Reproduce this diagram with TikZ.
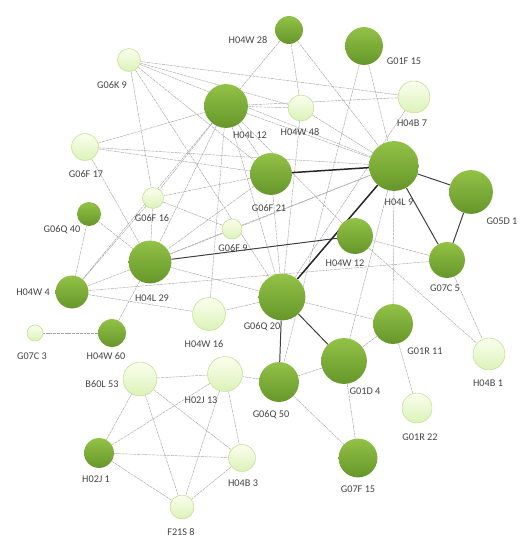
\documentclass[tikz,border=0pt]{standalone}
\usepackage{fontspec}
\setmainfont{Carlito}
\pgfdeclarelayer{bgfill}
\pgfdeclarelayer{bg}
\pgfsetlayers{bgfill,bg,main}
\definecolor{dkTop}{RGB}{146,194,70}
\definecolor{dkBot}{RGB}{102,150,42}
\definecolor{ltTop}{RGB}{250,255,238}
\definecolor{ltBot}{RGB}{220,242,184}
\definecolor{ltEdge}{RGB}{196,224,150}
\definecolor{lblc}{RGB}{70,70,70}
\tikzset{
  dk/.style={circle, draw=none, top color=dkTop, bottom color=dkBot, minimum size=#1, inner sep=0pt},
  lt/.style={circle, draw=ltEdge, line width=0.6pt, top color=ltTop, bottom color=ltBot, minimum size=#1, inner sep=0pt},
  lbl/.style={font=\fontsize{10.3}{11}\selectfont, text=lblc, inner sep=0pt},
  thinedge/.style={draw=gray!70, line width=0.45pt, dash pattern=on 3pt off 0.8pt},
  medge/.style={draw=black!75, line width=1pt},
  thickedge/.style={draw=black!85, line width=1.5pt}
}
\begin{document}
\begin{tikzpicture}[x=1bp,y=-1bp]
\begin{pgfonlayer}{bgfill}
\path[fill=white] (0,0) rectangle (529,550);
\end{pgfonlayer}
\useasboundingbox (0,0) rectangle (529,550);
% nodes
\node[dk=28] (H04W28) at (289,30) {};
\node[dk=38] (G01F15) at (364,46) {};
\node[lt=23] (G06K9) at (129,60) {};
\node[dk=44] (H04L12) at (226,106) {};
\node[lt=26] (H04W48) at (301,108) {};
\node[lt=32] (H04B7) at (414,97) {};
\node[lt=27] (G06F17) at (85,147) {};
\node[dk=50] (H04L9) at (394,166) {};
\node[dk=44] (G05D1) at (471,192) {};
\node[dk=42] (G06F21) at (271,174) {};
\node[lt=21] (G06F16) at (153,198) {};
\node[dk=24] (G06Q40) at (89,214) {};
\node[lt=20] (G06F9) at (232,229) {};
\node[dk=36] (H04W12) at (355,236) {};
\node[dk=43] (H04L29) at (150,262) {};
\node[dk=36] (G07C5) at (447,260) {};
\node[dk=33] (H04W4) at (72,292) {};
\node[dk=47] (G06Q20) at (282,297) {};
\node[lt=33] (H04W16) at (209,314) {};
\node[lt=16] (G07C3) at (35,333) {};
\node[dk=28] (H04W60) at (112,333) {};
\node[dk=40] (G01R11) at (393,324) {};
\node[lt=32] (H04B1) at (489,354) {};
\node[dk=46] (G01D4) at (344,361) {};
\node[lt=34] (B60L53) at (140,379) {};
\node[lt=35] (H02J13) at (225,374) {};
\node[dk=40] (G06Q50) at (279,382) {};
\node[lt=30] (G01R22) at (417,408) {};
\node[dk=30] (H02J1) at (99,453) {};
\node[lt=27] (H04B3) at (242,458) {};
\node[dk=39] (G07F15) at (358,458) {};
\node[lt=24] (F21S8) at (182,507) {};
% labels
\node[lbl] (lH04W28) at (248,40) {H04W 28};
\node[lbl] (lG01F15) at (404,61) {G01F 15};
\node[lbl] (lG06K9) at (112,85) {G06K 9};
\node[lbl] (lH04L12) at (250,135) {H04L 12};
\node[lbl] (lH04W48) at (300,132) {H04W 48};
\node[lbl] (lH04B7) at (412,123) {H04B 7};
\node[lbl] (lG06F17) at (86,174) {G06F 17};
\node[lbl] (lH04L9) at (399,202) {H04L 9};
\node[lbl] (lG05D1) at (502,221) {G05D 1};
\node[lbl] (lG06F21) at (269,208) {G06F 21};
\node[lbl] (lG06F16) at (152,218) {G06F 16};
\node[lbl] (lG06Q40) at (62,230) {G06Q 40};
\node[lbl] (lG06F9) at (233,248) {G06F 9};
\node[lbl] (lH04W12) at (345,263) {H04W 12};
\node[lbl] (lH04L29) at (152,298) {H04L 29};
\node[lbl] (lG07C5) at (445,288) {G07C 5};
\node[lbl] (lH04W4) at (33,292) {H04W 4};
\node[lbl] (lG06Q20) at (262,327) {G06Q 20};
\node[lbl] (lH04W16) at (204,344) {H04W 16};
\node[lbl] (lG07C3) at (32,356) {G07C 3};
\node[lbl] (lH04W60) at (106,356) {H04W 60};
\node[lbl] (lG01R11) at (425,351) {G01R 11};
\node[lbl] (lH04B1) at (488,383) {H04B 1};
\node[lbl] (lG01D4) at (365,391) {G01D 4};
\node[lbl] (lB60L53) at (102,384) {B60L 53};
\node[lbl] (lH02J13) at (201,400) {H02J 13};
\node[lbl] (lG06Q50) at (271,415) {G06Q 50};
\node[lbl] (lG01R22) at (420,437) {G01R 22};
\node[lbl] (lH02J1) at (96,479) {H02J 1};
\node[lbl] (lH04B3) at (243,483) {H04B 3};
\node[lbl] (lG07F15) at (358,489) {G07F 15};
\node[lbl] (lF21S8) at (181,532) {F21S 8};
% edges
\begin{pgfonlayer}{bg}
\foreach \a/\b in {H04W28/H04L12, H04W28/H04W48, H04W28/H04L9,
  G01F15/H04L9, G01F15/G06Q50,
  H04B7/G06Q20, H04B7/G06K9, H04B7/H04L12,
  G06F17/H04L9, G06F17/G06F21, G06F17/H04L12, G06F17/H04L29,
  G06K9/H04W48, G06K9/H04L9, G06K9/G06F21, G06K9/G06Q20, G06K9/G06F16,
  H04L12/H04L9, H04L12/H04W48, H04L12/G06F16, H04L12/H04L29, H04L12/H04W16,
  H04L12/G06Q20, H04L12/H04W12, H04L12/G06F21,
  H04W48/H04L9, H04W48/G06Q20,
  G06F21/G06Q20, G06F21/G06F16, G06F21/H04L29,
  G06F16/H04L29, G06F16/G06F9, G06F16/H04W4,
  G06F9/H04L9, G06F9/H04L29,
  H04L29/G06Q20, H04L29/H04W4, H04L29/G06Q40, H04L29/H04W60, H04L29/H04L9,
  H04W4/G06Q40, H04W4/H04W16, H04W4/G07C5, H04W4/H04L12,
  G06Q20/G01R11, G06Q20/H04W16,
  H04W12/G07C5, H04W12/H04B1,
  H04L9/G01R11, H04L9/G01D4,
  G07C5/H04B1,
  G01R11/G01R22, G01R11/G01D4,
  G01D4/G06Q50, G01D4/G07F15, G06Q50/G07F15, G06Q50/H02J13,
  B60L53/H02J13, B60L53/H02J1, B60L53/F21S8, B60L53/H04B3,
  H02J13/H02J1, H02J13/F21S8, H02J13/H04B3,
  H02J1/H04B3, H02J1/F21S8, H04B3/F21S8,
  H04W60/G07C3}
  {\draw[thinedge] (\a) -- (\b);}
\foreach \a/\b in {H04L29/H04W12, H04L9/G07C5, H04L9/G05D1, G05D1/G07C5, G06Q20/G06Q50, G06Q20/G01D4}
  {\draw[medge] (\a) -- (\b);}
\foreach \a/\b in {G06F21/H04L9, G06Q20/H04L9}
  {\draw[thickedge] (\a) -- (\b);}
\end{pgfonlayer}
\end{tikzpicture}
\end{document}
